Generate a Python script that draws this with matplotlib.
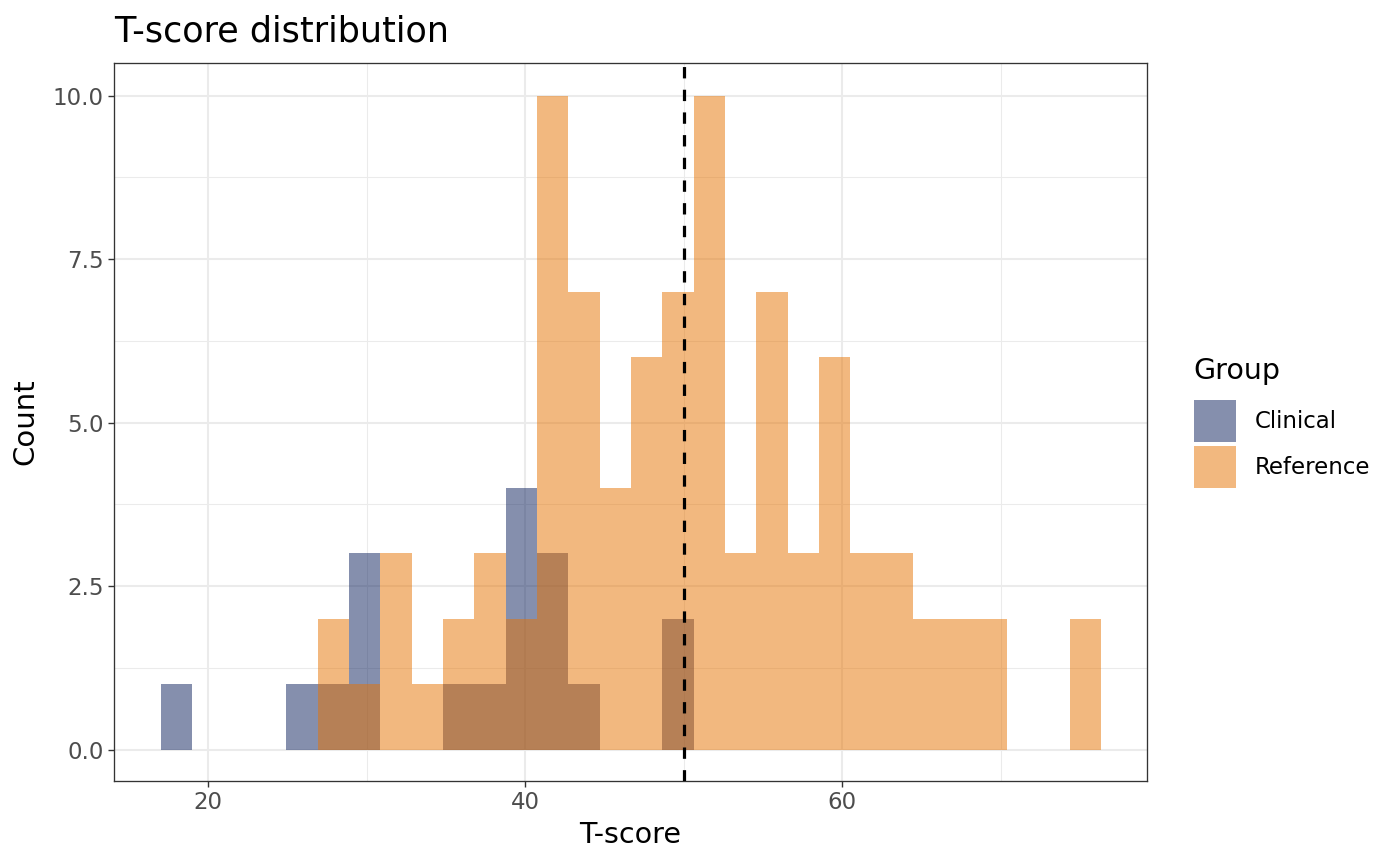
import matplotlib
matplotlib.use("Agg")
import matplotlib.pyplot as plt
from matplotlib.patches import Patch
import numpy as np

plt.rcParams['font.family'] = ['DejaVu Sans']

# ---- data ----
bin_start = 17.03
bin_width = 1.977
clinical_counts = [1, 0, 0, 0, 1, 1, 3, 0, 0, 1, 1, 4, 3, 1, 0, 0, 2, 0, 0, 0,
                   0, 0, 0, 0, 0, 0, 0, 0, 0, 0]
reference_counts = [0, 0, 0, 0, 0, 2, 1, 3, 1, 2, 3, 2, 10, 7, 4, 6, 7, 10, 3, 7,
                    3, 6, 3, 3, 2, 2, 2, 0, 0, 2]
groups = ["Clinical", "Reference"]
cutoff = 50
x_ticks = [20, 40, 60]
y_ticks = [0.0, 2.5, 5.0, 7.5, 10.0]
y_tick_labels = ["0.0", "2.5", "5.0", "7.5", "10.0"]

colors = {"Clinical": "#0D215D", "Reference": "#E77300"}
alpha = 0.5

W, H = 1400, 866
fig = plt.figure(figsize=(W / 100, H / 100), dpi=100)
ax = fig.add_axes([114 / W, 1 - 781 / H, (1147 - 114) / W, (781 - 63) / H])

lefts = bin_start + bin_width * np.arange(len(clinical_counts))
ax.bar(lefts, clinical_counts, width=bin_width, align='edge',
       color=colors["Clinical"], alpha=alpha, linewidth=0, zorder=2)
ax.bar(lefts, reference_counts, width=bin_width, align='edge',
       color=colors["Reference"], alpha=alpha, linewidth=0, zorder=3)

ax.axvline(cutoff, color='black', linestyle=(0, (3.55, 3.55)), linewidth=2.3, zorder=4)

ax.set_xlim(14.07, 79.24)
ax.set_ylim(-0.48, 10.5)
ax.set_xticks(x_ticks)
ax.set_yticks(y_ticks)
ax.set_yticklabels(y_tick_labels)
ax.set_xticks([30, 50, 70], minor=True)
ax.set_yticks([1.25, 3.75, 6.25, 8.75], minor=True)

ax.grid(which='major', color='#EBEBEB', linewidth=1.5, zorder=0)
ax.grid(which='minor', color='#EBEBEB', linewidth=0.75, zorder=0)
ax.set_axisbelow(True)

for s in ax.spines.values():
    s.set_color('#333333')
    s.set_linewidth(0.95)

ax.tick_params(which='major', length=4.3, width=1.0, color='#333333',
               labelcolor='#4D4D4D', labelsize=16.5, pad=3)
ax.tick_params(which='minor', length=0)

ax.set_xlabel("T-score", fontsize=20.5, color='black', labelpad=5)
ax.set_ylabel("Count", fontsize=21, color='black', labelpad=10)

fig.text(114 / W, 1 - 42 / H, "T-score distribution", fontsize=25.2,
         color='black', ha='left', va='baseline')

# legend
fig.text(1193 / W, 1 - 379 / H, "Group", fontsize=20.5, color='black',
         ha='left', va='baseline')
handles = [Patch(facecolor=colors[g], alpha=alpha, linewidth=0, label=g) for g in groups]
leg = fig.legend(handles=handles, loc='upper left',
                 bbox_to_anchor=(1194 / W, 1 - 400 / H),
                 frameon=False, fontsize=16.5,
                 handlelength=1.83, handleheight=2.44,
                 handletextpad=0.8, labelspacing=0.18, borderpad=0,
                 borderaxespad=0)

fig.savefig("out.png", dpi=100)
